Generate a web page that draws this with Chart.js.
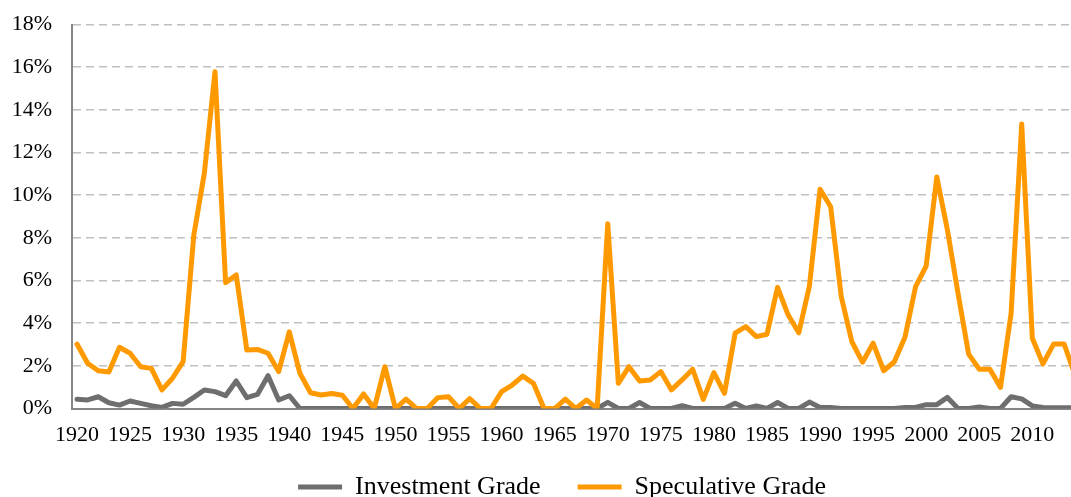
<!DOCTYPE html>
<html>
<head>
<meta charset="utf-8">
<script src="https://cdn.jsdelivr.net/npm/chart.js@4.4.1/dist/chart.umd.min.js"></script>
<style>
  html, body { margin: 0; padding: 0; background: #fff; }
  .chart-container { width: 1071px; height: 497px; overflow: hidden; }
  canvas { display: block; }
</style>
</head>
<body>
<div class="chart-container">
  <canvas id="chart" width="1080" height="522"></canvas>
</div>
<script>
const years = [
  1920, 1921, 1922, 1923, 1924, 1925, 1926, 1927, 1928, 1929,
  1930, 1931, 1932, 1933, 1934, 1935, 1936, 1937, 1938, 1939,
  1940, 1941, 1942, 1943, 1944, 1945, 1946, 1947, 1948, 1949,
  1950, 1951, 1952, 1953, 1954, 1955, 1956, 1957, 1958, 1959,
  1960, 1961, 1962, 1963, 1964, 1965, 1966, 1967, 1968, 1969,
  1970, 1971, 1972, 1973, 1974, 1975, 1976, 1977, 1978, 1979,
  1980, 1981, 1982, 1983, 1984, 1985, 1986, 1987, 1988, 1989,
  1990, 1991, 1992, 1993, 1994, 1995, 1996, 1997, 1998, 1999,
  2000, 2001, 2002, 2003, 2004, 2005, 2006, 2007, 2008, 2009,
  2010, 2011, 2012, 2013, 2014
];

// default rates, % per year
const investmentGrade = [
  0.43, 0.40, 0.55, 0.27, 0.16, 0.35, 0.24, 0.13, 0.05, 0.24,
  0.20, 0.52, 0.87, 0.79, 0.60, 1.29, 0.51, 0.66, 1.54, 0.40,
  0.60, 0.00, 0.00, 0.00, 0.00, 0.00, 0.00, 0.00, 0.00, 0.00,
  0.00, 0.00, 0.00, 0.00, 0.00, 0.00, 0.00, 0.00, 0.00, 0.00,
  0.00, 0.00, 0.00, 0.00, 0.00, 0.00, 0.00, 0.00, 0.00, 0.00,
  0.29, 0.00, 0.00, 0.28, 0.00, 0.00, 0.00, 0.13, 0.00, 0.00,
  0.00, 0.00, 0.25, 0.00, 0.12, 0.00, 0.28, 0.00, 0.00, 0.30,
  0.05, 0.05, 0.00, 0.00, 0.00, 0.00, 0.00, 0.00, 0.05, 0.05,
  0.18, 0.18, 0.52, 0.00, 0.00, 0.07, 0.00, 0.00, 0.55, 0.45,
  0.12, 0.05, 0.04, 0.04, 0.04
];

const speculativeGrade = [
  3.02, 2.12, 1.77, 1.71, 2.87, 2.59, 1.96, 1.88, 0.87, 1.42,
  2.20, 8.10, 11.04, 15.79, 5.90, 6.26, 2.74, 2.77, 2.59, 1.73,
  3.59, 1.65, 0.74, 0.63, 0.70, 0.62, 0.00, 0.68, 0.00, 1.96,
  0.00, 0.44, 0.00, 0.00, 0.51, 0.55, 0.00, 0.46, 0.00, 0.00,
  0.79, 1.10, 1.52, 1.18, 0.00, 0.00, 0.44, 0.00, 0.40, 0.00,
  8.66, 1.18, 1.96, 1.29, 1.34, 1.73, 0.87, 1.34, 1.84, 0.43,
  1.68, 0.71, 3.53, 3.84, 3.37, 3.48, 5.68, 4.38, 3.55, 5.74,
  10.28, 9.46, 5.24, 3.13, 2.17, 3.06, 1.77, 2.19, 3.34, 5.71,
  6.68, 10.85, 8.37, 5.40, 2.55, 1.84, 1.84, 0.99, 4.46, 13.34,
  3.29, 2.09, 3.02, 3.02, 1.60
];

const yTicks = [0, 2, 4, 6, 8, 10, 12, 14, 16, 18];

Chart.defaults.font.family = "'Liberation Serif', 'Times New Roman', serif";
Chart.defaults.font.size = 22;
Chart.defaults.color = '#000';

// the legend sits centred under the full (uncropped) chart, so nudge it
const shiftLegend = {
  id: 'shiftLegend',
  afterLayout(chart) {
    const lg = chart.legend;
    lg.left += 22;
    lg.right += 22;
    lg.top -= 12;
    lg.bottom -= 12;
  }
};

const toPoints = values => years.map((yr, i) => ({ x: yr, y: values[i] }));

const ctx = document.getElementById('chart').getContext('2d');
new Chart(ctx, {
  type: 'line',
  data: {
    datasets: [
      {
        label: 'Investment Grade',
        data: toPoints(investmentGrade),
        borderColor: '#6e6e6e',
        backgroundColor: '#6e6e6e',
        borderWidth: 5,
        borderJoinStyle: 'round',
        borderCapStyle: 'round',
        pointRadius: 0,
        tension: 0,
        order: 1,
      },
      {
        label: 'Speculative Grade',
        data: toPoints(speculativeGrade),
        borderColor: '#ff9900',
        backgroundColor: '#ff9900',
        borderWidth: 5,
        borderJoinStyle: 'round',
        borderCapStyle: 'round',
        pointRadius: 0,
        tension: 0,
        order: 0,
      },
    ],
  },
  options: {
    responsive: false,
    animation: false,
    layout: {
      padding: { top: 24.5, left: 0, right: 0, bottom: 0 },
    },
    plugins: {
      legend: {
        position: 'bottom',
        labels: {
          usePointStyle: true,
          pointStyle: 'line',
          pointStyleWidth: 44,
          padding: 37,
          color: '#000',
          font: { size: 26 },
          sort: (a, b) => a.datasetIndex - b.datasetIndex,
        },
      },
      tooltip: { enabled: false },
    },
    scales: {
      x: {
        type: 'linear',
        min: 1919.53,
        max: 2014.49,
        grid: { display: false, drawTicks: false },
        border: { color: '#868686', width: 2 },
        ticks: {
          stepSize: 5,
          includeBounds: false,
          maxRotation: 0,
          autoSkip: false,
          padding: 14,
          callback: v => String(v),
        },
        afterFit: scale => { scale.height = 40.5; },
      },
      y: {
        min: 0,
        max: 18,
        afterBuildTicks: scale => { scale.ticks = yTicks.map(v => ({ value: v })); },
        grid: { color: '#c0c0c0', lineWidth: 1.5, drawTicks: false },
        border: { color: '#868686', width: 2, dash: [8, 5] },
        ticks: {
          padding: 20,
          callback: v => v + '%',
        },
        afterFit: scale => {
          scale.width = 72;
          scale.paddingTop = 0;
        },
      },
    },
  },
  plugins: [shiftLegend],
});
</script>
</body>
</html>
